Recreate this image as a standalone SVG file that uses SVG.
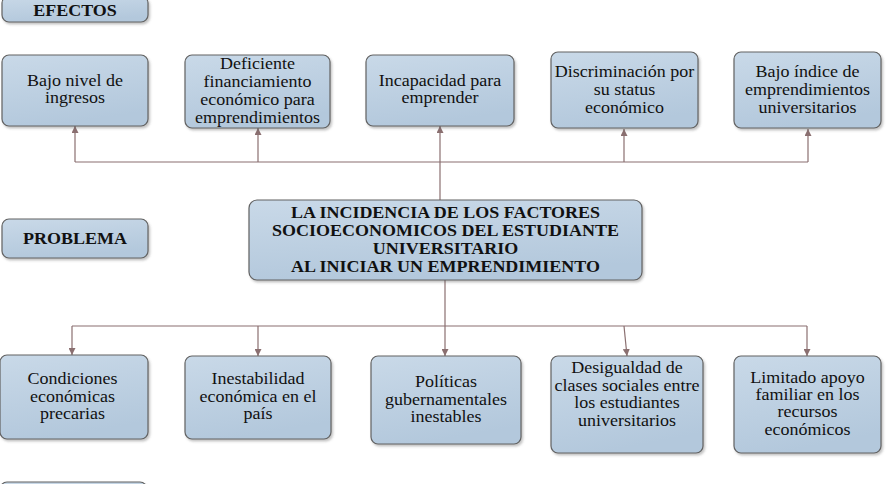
<svg xmlns="http://www.w3.org/2000/svg" width="890" height="484" viewBox="0 0 890 484">
<style>
.box{fill:url(#g);stroke:#626262;stroke-width:1.2;filter:url(#sh)}
.t{font-family:"Liberation Serif","Times New Roman",serif;font-size:16px;fill:#111;text-anchor:middle}
.b{font-weight:bold}
.c{fill:none;stroke:#8a6f70;stroke-width:1.2}
</style>
<defs>
<linearGradient id="g" x1="0" y1="0" x2="0.3" y2="1">
<stop offset="0" stop-color="#c9d9e8"/>
<stop offset="1" stop-color="#b3c8dc"/>
</linearGradient>
<filter id="sh" x="-10%" y="-10%" width="125%" height="130%">
<feDropShadow dx="1.5" dy="2" stdDeviation="1.2" flood-color="#555" flood-opacity="0.35"/>
</filter>
<marker id="ah" viewBox="0 0 10 10" refX="10" refY="5" markerWidth="7" markerHeight="7" orient="auto" markerUnits="userSpaceOnUse">
<path d="M0,0 L10,5 L0,10 z" fill="#8a6f70"/>
</marker>
</defs>

<g id="connectors">
<path class="c" d="M75,162 H808"/>
<path class="c" d="M75,162 V126" marker-end="url(#ah)"/>
<path class="c" d="M258,162 V128" marker-end="url(#ah)"/>
<path class="c" d="M440,200 V126" marker-end="url(#ah)"/>
<path class="c" d="M624,162 V129" marker-end="url(#ah)"/>
<path class="c" d="M808,162 V129" marker-end="url(#ah)"/>
<path class="c" d="M72,326 H807"/>
<path class="c" d="M72,326 V355" marker-end="url(#ah)"/>
<path class="c" d="M258,326 V356" marker-end="url(#ah)"/>
<path class="c" d="M445,280 V356" marker-end="url(#ah)"/>
<path class="c" d="M624,326 L627,356" marker-end="url(#ah)"/>
<path class="c" d="M807,326 V356" marker-end="url(#ah)"/>
</g>

<g id="efectos">
<rect class="box" x="2" y="-4" width="146" height="26" rx="7"/>
<text class="t b" transform="matrix(1.125 0 0 1 75 16)"><tspan x="0" y="0">EFECTOS</tspan></text>
</g>

<g id="problema">
<rect class="box" x="2" y="219" width="146" height="39" rx="7"/>
<text class="t b" transform="matrix(1.125 0 0 1 75 0)"><tspan x="0" y="244">PROBLEMA</tspan></text>
</g>

<g id="causas">
<rect class="box" x="0" y="482" width="147" height="30" rx="7"/>
</g>

<g id="e1">
<rect class="box" x="2" y="55" width="146" height="71" rx="7"/>
<text class="t" transform="matrix(1.125 0 0 1 75 0)"><tspan x="0" y="86">Bajo nivel de</tspan><tspan x="0" y="103">ingresos</tspan></text>
</g>
<g id="e2">
<rect class="box" x="185" y="55" width="145" height="73" rx="7"/>
<text class="t" transform="matrix(1.125 0 0 1 257.5 0)"><tspan x="0" y="69">Deficiente</tspan><tspan x="0" y="87">financiamiento</tspan><tspan x="0" y="105">económico para</tspan><tspan x="0" y="123">emprendimientos</tspan></text>
</g>
<g id="e3">
<rect class="box" x="366" y="55" width="148" height="71" rx="7"/>
<text class="t" transform="matrix(1.125 0 0 1 440 0)"><tspan x="0" y="86">Incapacidad para</tspan><tspan x="0" y="103">emprender</tspan></text>
</g>
<g id="e4">
<rect class="box" x="551" y="52" width="147" height="76" rx="7"/>
<text class="t" transform="matrix(1.125 0 0 1 624.5 0)"><tspan x="0" y="77">Discriminación por</tspan><tspan x="0" y="95">su status</tspan><tspan x="0" y="113">económico</tspan></text>
</g>
<g id="e5">
<rect class="box" x="734" y="52" width="147" height="76" rx="7"/>
<text class="t" transform="matrix(1.125 0 0 1 807.5 0)"><tspan x="0" y="77">Bajo índice de</tspan><tspan x="0" y="95">emprendimientos</tspan><tspan x="0" y="113">universitarios</tspan></text>
</g>

<g id="center">
<rect class="box" x="249" y="200" width="393" height="80" rx="8"/>
<text class="t b" transform="matrix(1.125 0 0 1 445.5 0)"><tspan x="0" y="218">LA INCIDENCIA DE LOS FACTORES</tspan><tspan x="0" y="236">SOCIOECONOMICOS DEL ESTUDIANTE</tspan><tspan x="0" y="254">UNIVERSITARIO</tspan><tspan x="0" y="272">AL INICIAR UN EMPRENDIMIENTO</tspan></text>
</g>

<g id="c1">
<rect class="box" x="0" y="355" width="148" height="84" rx="7"/>
<text class="t" transform="matrix(1.125 0 0 1 72.5 0)"><tspan x="0" y="384">Condiciones</tspan><tspan x="0" y="402">económicas</tspan><tspan x="0" y="419">precarias</tspan></text>
</g>
<g id="c2">
<rect class="box" x="185" y="356" width="146" height="83" rx="7"/>
<text class="t" transform="matrix(1.125 0 0 1 258 0)"><tspan x="0" y="384">Inestabilidad</tspan><tspan x="0" y="402">económica en el</tspan><tspan x="0" y="419">país</tspan></text>
</g>
<g id="c3">
<rect class="box" x="371" y="356" width="150" height="88" rx="7"/>
<text class="t" transform="matrix(1.125 0 0 1 446 0)"><tspan x="0" y="387">Políticas</tspan><tspan x="0" y="405">gubernamentales</tspan><tspan x="0" y="422">inestables</tspan></text>
</g>
<g id="c4">
<rect class="box" x="551" y="356" width="152" height="97" rx="7"/>
<text class="t" transform="matrix(1.125 0 0 1 627 0)"><tspan x="0" y="373">Desigualdad de</tspan><tspan x="0" y="391">clases sociales entre</tspan><tspan x="0" y="408">los estudiantes</tspan><tspan x="0" y="426">universitarios</tspan></text>
</g>
<g id="c5">
<rect class="box" x="734" y="356" width="147" height="97" rx="7"/>
<text class="t" transform="matrix(1.125 0 0 1 807.5 0)"><tspan x="0" y="383">Limitado apoyo</tspan><tspan x="0" y="400">familiar en los</tspan><tspan x="0" y="417">recursos</tspan><tspan x="0" y="435">económicos</tspan></text>
</g>
</svg>
